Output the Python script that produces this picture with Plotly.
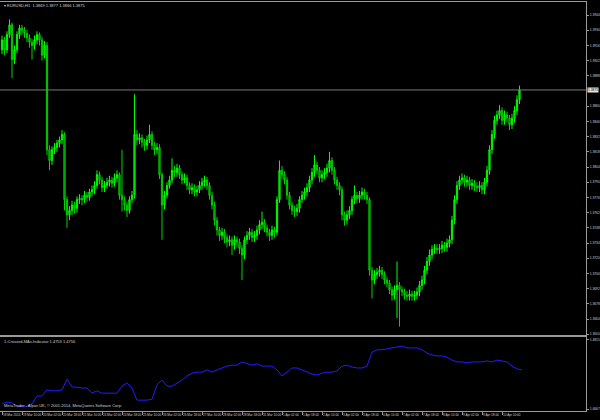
import plotly.graph_objects as go

# ---------------- data ----------------
symbol_title = "EURUSD,H1  1.3869 1.3877 1.3866 1.3875"
indicator_title = "1-Crossed-MAs-Indicator 1.4753 1.4756"
footer_text = "MetaTrader - Alpari UK, \u00a9 2001-2014, MetaQuotes Software Corp."

# x-axis labels, one every 16 hourly bars
date_labels = ["18 Mar 2014", "19 Mar 10:00", "20 Mar 02:00", "20 Mar 18:00", "21 Mar 10:00",
               "24 Mar 02:00", "24 Mar 18:00", "25 Mar 10:00", "26 Mar 02:00", "26 Mar 18:00",
               "27 Mar 10:00", "28 Mar 02:00", "28 Mar 18:00", "31 Mar 10:00", "1 Apr 02:00",
               "1 Apr 18:00", "2 Apr 10:00", "3 Apr 02:00", "3 Apr 18:00", "4 Apr 10:00",
               "7 Apr 02:00", "7 Apr 18:00", "8 Apr 10:00", "9 Apr 02:00", "9 Apr 18:00",
               "10 Apr 10:00"]

# price candles (each entry spans two hourly bars)
bar_open = [1.3912, 1.3921, 1.3912, 1.3926, 1.3935, 1.3903, 1.3912, 1.3926, 1.3932, 1.3930,
            1.3927, 1.3923, 1.3919, 1.3916, 1.3921, 1.3926, 1.3921, 1.3907, 1.3916, 1.3820,
            1.3810, 1.3820, 1.3822, 1.3826, 1.3829, 1.3834, 1.3774, 1.3760, 1.3764, 1.3769,
            1.3766, 1.3774, 1.3775, 1.3774, 1.3778, 1.3776, 1.3781, 1.3783, 1.3787, 1.3797,
            1.3792, 1.3785, 1.3787, 1.3790, 1.3792, 1.3789, 1.3794, 1.3797, 1.3778, 1.3774,
            1.3769, 1.3764, 1.3774, 1.3778, 1.3834, 1.3829, 1.3831, 1.3827, 1.3824, 1.3829,
            1.3834, 1.3824, 1.3820, 1.3822, 1.3797, 1.3769, 1.3778, 1.3787, 1.3792, 1.3801,
            1.3799, 1.3803, 1.3797, 1.3792, 1.3794, 1.3787, 1.3783, 1.3785, 1.3781, 1.3783,
            1.3787, 1.3790, 1.3792, 1.3787, 1.3778, 1.3769, 1.3755, 1.3746, 1.3741, 1.3744,
            1.3739, 1.3735, 1.3737, 1.3732, 1.3737, 1.3735, 1.3729, 1.3723, 1.3737, 1.3741,
            1.3744, 1.3739, 1.3741, 1.3746, 1.3751, 1.3753, 1.3748, 1.3744, 1.3741, 1.3746,
            1.3744, 1.3774, 1.3801, 1.3797, 1.3792, 1.3778, 1.3769, 1.3764, 1.3763, 1.3766,
            1.3774, 1.3778, 1.3781, 1.3785, 1.3792, 1.3799, 1.3806, 1.3801, 1.3794, 1.3797,
            1.3799, 1.3803, 1.3810, 1.3801, 1.3792, 1.3787, 1.3783, 1.3760, 1.3755, 1.3760,
            1.3764, 1.3774, 1.3778, 1.3775, 1.3778, 1.3781, 1.3778, 1.3774, 1.3709, 1.3700,
            1.3705, 1.3707, 1.3709, 1.3705, 1.3700, 1.3697, 1.3691, 1.3686, 1.3691, 1.3695,
            1.3691, 1.3689, 1.3686, 1.3685, 1.3687, 1.3685, 1.3686, 1.3689, 1.3695, 1.3700,
            1.3709, 1.3717, 1.3723, 1.3728, 1.3729, 1.3728, 1.3729, 1.3732, 1.3730, 1.3734,
            1.3737, 1.3755, 1.3774, 1.3787, 1.3792, 1.3794, 1.3790, 1.3792, 1.3787, 1.3789,
            1.3786, 1.3785, 1.3787, 1.3783, 1.3790, 1.3801, 1.3820, 1.3834, 1.3847, 1.3852,
            1.3856, 1.3847, 1.3852, 1.3849, 1.3843, 1.3849, 1.3856, 1.3866]

bar_high = [1.3925, 1.3924, 1.3929, 1.3940, 1.3937, 1.3916, 1.3929, 1.3935, 1.3935, 1.3933,
            1.3930, 1.3926, 1.3922, 1.3925, 1.3929, 1.3928, 1.3924, 1.3920, 1.3919, 1.3824,
            1.3823, 1.3826, 1.3829, 1.3832, 1.3838, 1.3836, 1.3777, 1.3768, 1.3773, 1.3772,
            1.3777, 1.3779, 1.3778, 1.3782, 1.3781, 1.3784, 1.3787, 1.3791, 1.3801, 1.3800,
            1.3795, 1.3791, 1.3794, 1.3796, 1.3795, 1.3798, 1.3801, 1.3799, 1.3820, 1.3777,
            1.3772, 1.3777, 1.3782, 1.3871, 1.3838, 1.3835, 1.3834, 1.3830, 1.3833, 1.3843,
            1.3837, 1.3827, 1.3826, 1.3825, 1.3799, 1.3782, 1.3790, 1.3796, 1.3812, 1.3805,
            1.3807, 1.3806, 1.3800, 1.3798, 1.3797, 1.3790, 1.3789, 1.3788, 1.3787, 1.3791,
            1.3794, 1.3796, 1.3795, 1.3790, 1.3781, 1.3772, 1.3758, 1.3749, 1.3748, 1.3747,
            1.3742, 1.3741, 1.3740, 1.3741, 1.3740, 1.3738, 1.3732, 1.3740, 1.3745, 1.3748,
            1.3747, 1.3745, 1.3750, 1.3755, 1.3763, 1.3756, 1.3751, 1.3747, 1.3750, 1.3749,
            1.3777, 1.3810, 1.3805, 1.3800, 1.3795, 1.3781, 1.3772, 1.3768, 1.3770, 1.3777,
            1.3782, 1.3785, 1.3789, 1.3796, 1.3803, 1.3815, 1.3809, 1.3804, 1.3801, 1.3803,
            1.3807, 1.3818, 1.3813, 1.3804, 1.3795, 1.3790, 1.3786, 1.3763, 1.3764, 1.3768,
            1.3777, 1.3787, 1.3781, 1.3782, 1.3785, 1.3784, 1.3781, 1.3776, 1.3712, 1.3709,
            1.3711, 1.3713, 1.3712, 1.3708, 1.3703, 1.3700, 1.3694, 1.3695, 1.3717, 1.3698,
            1.3694, 1.3692, 1.3690, 1.3691, 1.3690, 1.3690, 1.3693, 1.3699, 1.3704, 1.3713,
            1.3721, 1.3728, 1.3732, 1.3733, 1.3733, 1.3733, 1.3736, 1.3735, 1.3738, 1.3741,
            1.3759, 1.3778, 1.3791, 1.3796, 1.3798, 1.3797, 1.3796, 1.3795, 1.3793, 1.3792,
            1.3790, 1.3791, 1.3790, 1.3794, 1.3805, 1.3824, 1.3838, 1.3851, 1.3856, 1.3861,
            1.3859, 1.3856, 1.3855, 1.3852, 1.3853, 1.3860, 1.3870, 1.3879]

bar_low = [1.3908, 1.3907, 1.3909, 1.3923, 1.3886, 1.3899, 1.3909, 1.3922, 1.3926, 1.3923,
           1.3919, 1.3914, 1.3903, 1.3912, 1.3917, 1.3916, 1.3902, 1.3904, 1.3815, 1.3801,
           1.3806, 1.3816, 1.3818, 1.3822, 1.3825, 1.3764, 1.3748, 1.3755, 1.3760, 1.3761,
           1.3762, 1.3770, 1.3769, 1.3771, 1.3772, 1.3773, 1.3777, 1.3779, 1.3784, 1.3788,
           1.3781, 1.3781, 1.3784, 1.3786, 1.3785, 1.3786, 1.3790, 1.3774, 1.3763, 1.3764,
           1.3758, 1.3761, 1.3771, 1.3775, 1.3824, 1.3825, 1.3822, 1.3819, 1.3820, 1.3826,
           1.3820, 1.3815, 1.3816, 1.3793, 1.3737, 1.3765, 1.3775, 1.3784, 1.3789, 1.3795,
           1.3795, 1.3793, 1.3788, 1.3789, 1.3783, 1.3779, 1.3779, 1.3777, 1.3777, 1.3780,
           1.3783, 1.3786, 1.3783, 1.3774, 1.3765, 1.3750, 1.3741, 1.3736, 1.3737, 1.3734,
           1.3730, 1.3731, 1.3723, 1.3728, 1.3730, 1.3724, 1.3700, 1.3719, 1.3733, 1.3737,
           1.3735, 1.3735, 1.3737, 1.3742, 1.3747, 1.3744, 1.3740, 1.3736, 1.3737, 1.3739,
           1.3741, 1.3771, 1.3793, 1.3788, 1.3774, 1.3765, 1.3760, 1.3758, 1.3759, 1.3762,
           1.3771, 1.3774, 1.3777, 1.3781, 1.3788, 1.3795, 1.3797, 1.3790, 1.3790, 1.3793,
           1.3795, 1.3799, 1.3797, 1.3788, 1.3783, 1.3778, 1.3755, 1.3750, 1.3751, 1.3756,
           1.3760, 1.3770, 1.3771, 1.3771, 1.3774, 1.3774, 1.3770, 1.3704, 1.3683, 1.3696,
           1.3701, 1.3703, 1.3701, 1.3696, 1.3693, 1.3687, 1.3681, 1.3682, 1.3665, 1.3657,
           1.3685, 1.3682, 1.3681, 1.3681, 1.3681, 1.3681, 1.3682, 1.3685, 1.3691, 1.3696,
           1.3705, 1.3713, 1.3719, 1.3724, 1.3724, 1.3724, 1.3725, 1.3726, 1.3726, 1.3730,
           1.3733, 1.3751, 1.3770, 1.3783, 1.3788, 1.3786, 1.3786, 1.3783, 1.3783, 1.3782,
           1.3781, 1.3781, 1.3779, 1.3779, 1.3786, 1.3797, 1.3816, 1.3830, 1.3843, 1.3848,
           1.3843, 1.3843, 1.3845, 1.3838, 1.3839, 1.3845, 1.3852, 1.3862]

bar_close = [1.3921, 1.3912, 1.3926, 1.3935, 1.3903, 1.3912, 1.3926, 1.3932, 1.3930, 1.3927,
             1.3923, 1.3919, 1.3916, 1.3921, 1.3926, 1.3921, 1.3907, 1.3916, 1.3820, 1.3810,
             1.3820, 1.3822, 1.3826, 1.3829, 1.3834, 1.3774, 1.3760, 1.3764, 1.3769, 1.3766,
             1.3774, 1.3775, 1.3774, 1.3778, 1.3776, 1.3781, 1.3783, 1.3787, 1.3797, 1.3792,
             1.3785, 1.3787, 1.3790, 1.3792, 1.3789, 1.3794, 1.3797, 1.3778, 1.3774, 1.3769,
             1.3764, 1.3774, 1.3778, 1.3834, 1.3829, 1.3831, 1.3827, 1.3824, 1.3829, 1.3834,
             1.3824, 1.3820, 1.3822, 1.3797, 1.3769, 1.3778, 1.3787, 1.3792, 1.3801, 1.3799,
             1.3803, 1.3797, 1.3792, 1.3794, 1.3787, 1.3783, 1.3785, 1.3781, 1.3783, 1.3787,
             1.3790, 1.3792, 1.3787, 1.3778, 1.3769, 1.3755, 1.3746, 1.3741, 1.3744, 1.3739,
             1.3735, 1.3737, 1.3732, 1.3737, 1.3735, 1.3729, 1.3723, 1.3737, 1.3741, 1.3744,
             1.3739, 1.3741, 1.3746, 1.3751, 1.3753, 1.3748, 1.3744, 1.3741, 1.3746, 1.3744,
             1.3774, 1.3801, 1.3797, 1.3792, 1.3778, 1.3769, 1.3764, 1.3763, 1.3766, 1.3774,
             1.3778, 1.3781, 1.3785, 1.3792, 1.3799, 1.3806, 1.3801, 1.3794, 1.3797, 1.3799,
             1.3803, 1.3810, 1.3801, 1.3792, 1.3787, 1.3783, 1.3760, 1.3755, 1.3760, 1.3764,
             1.3774, 1.3778, 1.3775, 1.3778, 1.3781, 1.3778, 1.3774, 1.3709, 1.3700, 1.3705,
             1.3707, 1.3709, 1.3705, 1.3700, 1.3697, 1.3691, 1.3686, 1.3691, 1.3695, 1.3691,
             1.3689, 1.3686, 1.3685, 1.3687, 1.3685, 1.3686, 1.3689, 1.3695, 1.3700, 1.3709,
             1.3717, 1.3723, 1.3728, 1.3729, 1.3728, 1.3729, 1.3732, 1.3730, 1.3734, 1.3737,
             1.3755, 1.3774, 1.3787, 1.3792, 1.3794, 1.3790, 1.3792, 1.3787, 1.3789, 1.3786,
             1.3785, 1.3787, 1.3783, 1.3790, 1.3801, 1.3820, 1.3834, 1.3847, 1.3852, 1.3856,
             1.3847, 1.3852, 1.3849, 1.3843, 1.3849, 1.3856, 1.3866, 1.3875]

# indicator line, one value every 4 hourly bars
ind_values = [1.4678, 1.4682, 1.4680, 1.4673, 1.4673, 1.4673, 1.4678, 1.4695, 1.4695, 1.4708,
              1.4706, 1.4706, 1.4708, 1.4731, 1.4714, 1.4714, 1.4712, 1.4712, 1.4701, 1.4706,
              1.4701, 1.4701, 1.4701, 1.4701, 1.4716, 1.4723, 1.4712, 1.4686, 1.4686, 1.4686,
              1.4688, 1.4719, 1.4729, 1.4716, 1.4716, 1.4723, 1.4729, 1.4738, 1.4744, 1.4746,
              1.4746, 1.4751, 1.4746, 1.4751, 1.4755, 1.4759, 1.4761, 1.4761, 1.4768, 1.4764,
              1.4761, 1.4764, 1.4759, 1.4759, 1.4759, 1.4751, 1.4738, 1.4746, 1.4755, 1.4755,
              1.4751, 1.4746, 1.4742, 1.4740, 1.4744, 1.4746, 1.4746, 1.4749, 1.4759, 1.4761,
              1.4757, 1.4755, 1.4755, 1.4759, 1.4789, 1.4794, 1.4794, 1.4796, 1.4798, 1.4800,
              1.4802, 1.4798, 1.4798, 1.4798, 1.4794, 1.4787, 1.4783, 1.4781, 1.4781, 1.4778,
              1.4772, 1.4768, 1.4768, 1.4766, 1.4768, 1.4768, 1.4768, 1.4770, 1.4768, 1.4772,
              1.4770, 1.4768, 1.4759, 1.4753, 1.4751]

price_ticks = [1.3944, 1.3930, 1.3916, 1.3902, 1.3888, 1.3860, 1.3846, 1.3832, 1.3818, 1.3804,
               1.3790, 1.3776, 1.3762, 1.3748, 1.3734, 1.3720, 1.3706, 1.3692, 1.3678, 1.3664,
               1.3650]
ind_ticks = [1.4815, 1.4667]

# ---------------- figure ----------------
BARS_PER_CANDLE = 2
BARS_PER_IND = 4
BARS_PER_LABEL = 16
candle_x = [k * BARS_PER_CANDLE for k in range(len(bar_close))]
ind_x = [j * BARS_PER_IND for j in range(len(ind_values))]
label_x = [j * BARS_PER_LABEL for j in range(len(date_labels))]

FG = "#9a9a9a"
TXT = "#d0d0d0"
FONT = "Liberation Sans Narrow, Liberation Sans"
FS = 4
FS_X = 3.1
FS_Y = 3.3

fig = go.Figure()
fig.add_trace(go.Candlestick(
    x=candle_x, open=bar_open, high=bar_high, low=bar_low, close=bar_close,
    increasing=dict(line=dict(color="#00ff00", width=1), fillcolor="#00b400"),
    decreasing=dict(line=dict(color="#00d200", width=1), fillcolor="#006e00"),
    whiskerwidth=0, xaxis="x", yaxis="y", showlegend=False, hoverinfo="skip"))
fig.add_trace(go.Scatter(
    x=ind_x, y=ind_values, mode="lines", line=dict(color="#1e1eff", width=1),
    xaxis="x2", yaxis="y2", showlegend=False, hoverinfo="skip"))

xr = [-1.6, 467.2]
fig.update_layout(
    width=600, height=420,
    margin=dict(l=0, r=14, t=0, b=0, autoexpand=False),
    paper_bgcolor="black", plot_bgcolor="black",
    font=dict(family=FONT, size=FS, color=TXT),
    xaxis=dict(domain=[0, 1], anchor="y", range=xr, showticklabels=False, ticks="",
               showgrid=False, zeroline=False, showline=True, mirror=True, automargin=False,
               linecolor=FG, linewidth=1, rangeslider=dict(visible=False)),
    yaxis=dict(domain=[0.2024, 0.9952], anchor="x", side="right", range=[1.36493, 1.39560],
               tickvals=price_ticks, ticktext=[f"{v:.4f}" for v in price_ticks],
               ticks="outside", ticklen=2, tickcolor=FG, tickfont=dict(size=FS_Y, color=TXT),
               showgrid=False, zeroline=False, showline=True, mirror=True, automargin=False,
               linecolor=FG, linewidth=1),
    xaxis2=dict(domain=[0, 1], anchor="y2", range=xr, matches="x",
                tickvals=label_x, ticktext=date_labels, ticks="outside", ticklen=3,
                tickangle=0, tickcolor=FG, ticklabelposition="outside right",
                tickfont=dict(size=FS_X, color=TXT), automargin=False,
                showgrid=False, zeroline=False, showline=True, mirror=True,
                linecolor=FG, linewidth=1),
    yaxis2=dict(domain=[0.0214, 0.1976], anchor="x2", side="right", range=[1.46627, 1.48214],
                tickvals=ind_ticks, ticktext=[f"{v:.4f}" for v in ind_ticks],
                ticks="outside", ticklen=2, tickcolor=FG, tickfont=dict(size=FS_Y, color=TXT),
                showgrid=False, zeroline=False, showline=True, mirror=True, automargin=False,
                linecolor=FG, linewidth=1),
)

# current price line and its label
fig.add_shape(type="line", xref="x domain", x0=0, x1=1, yref="y",
              y0=bar_close[-1], y1=bar_close[-1], line=dict(color="#7a7a7a", width=1))
fig.add_annotation(xref="x domain", x=1, xanchor="left", xshift=1, yref="y", y=bar_close[-1],
                   text=f"{bar_close[-1]:.4f}", showarrow=False, bgcolor="#e6e6e6",
                   font=dict(size=FS_Y, color="black"), borderpad=0)

# texts
fig.add_annotation(xref="paper", yref="paper", x=0.004, y=0.998, xanchor="left", yanchor="top",
                   text="\u25be " + symbol_title, showarrow=False,
                   font=dict(size=FS, color=TXT))
fig.add_annotation(xref="paper", yref="paper", x=0.004, y=0.197, xanchor="left", yanchor="top",
                   text=indicator_title, showarrow=False, font=dict(size=FS, color=TXT))
fig.add_annotation(xref="paper", yref="paper", x=0.004, y=0.023, xanchor="left", yanchor="bottom",
                   text=footer_text, showarrow=False, font=dict(size=FS, color=TXT))

fig.write_html("out.html", config={"displayModeBar": False},
               post_script="document.body.style.margin='0';document.body.style.overflow='hidden';")
